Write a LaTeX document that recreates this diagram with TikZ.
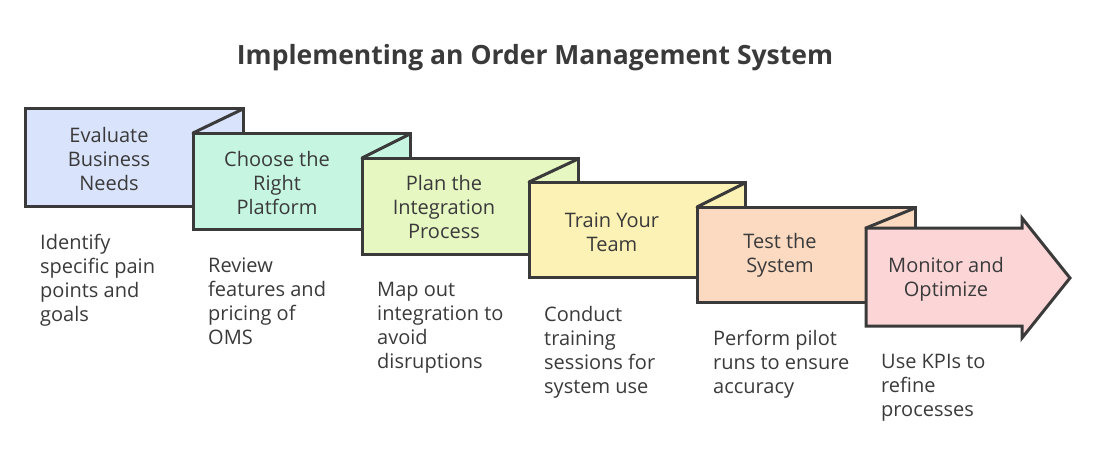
\documentclass[tikz,border=0pt]{standalone}
\usepackage{fontspec}
\setmainfont{Open Sans}
\definecolor{ink}{HTML}{3A3A3A}
\definecolor{cA}{HTML}{D9E3FB}
\definecolor{cB}{HTML}{C6F6E2}
\definecolor{cC}{HTML}{E6F7C2}
\definecolor{cD}{HTML}{FDF2B5}
\definecolor{cE}{HTML}{FCDAC2}
\definecolor{cF}{HTML}{FCD6D7}
\begin{document}
\begin{tikzpicture}[x=1pt,y=-1pt,
  stepbox/.style={draw=ink, line width=3pt, line join=miter},
  fold/.style={draw=ink, line width=3pt, line cap=round},
  lbl/.style={font=\fontsize{20}{24}\selectfont, text=ink, align=center, inner sep=0pt},
  desc/.style={font=\fontsize{20}{24}\selectfont, text=ink, align=left, anchor=north west, inner sep=0pt},
  ttl/.style={font=\bfseries\fontsize{26.5}{30}\selectfont, text=ink, inner sep=0pt}]
\useasboundingbox (0,0) rectangle (1096,472);
\node[ttl] (title) at (535,58) {Implementing an Order Management System};
% boxes
\filldraw[stepbox, fill=cA] (25,108) rectangle (243,206);
\filldraw[stepbox, fill=cB] (193,133) rectangle (410,229);
\draw[fold] (193,133) -- (243,109);
\filldraw[stepbox, fill=cC] (362,158) rectangle (578,254);
\draw[fold] (362,158) -- (410,134);
\filldraw[stepbox, fill=cD] (529,182) rectangle (745,277);
\draw[fold] (529,182) -- (578,159);
\filldraw[stepbox, fill=cE] (697,207) rectangle (915,302);
\draw[fold] (697,207) -- (745,183);
\filldraw[stepbox, fill=cF] (866,228) -- (1022,228) -- (1022,218) -- (1070,278) -- (1022,338) -- (1022,326) -- (866,326) -- cycle;
\draw[fold] (866,228) -- (915,208);
% labels
\node[lbl] (l1) at (109,159) {Evaluate\\Business\\Needs};
\node[lbl] (l2) at (277,183) {Choose the\\Right\\Platform};
\node[lbl] (l3) at (444,207) {Plan the\\Integration\\Process};
\node[lbl] (l4) at (612,232) {Train Your\\Team};
\node[lbl] (l5) at (780,255) {Test the\\System};
\node[lbl] (l6) at (946,279) {Monitor and\\Optimize};
% descriptions
\node[desc] (d1) at (40,234) {Identify\\specific pain\\points and\\goals};
\node[desc] (d2) at (208,258) {Review\\features and\\pricing of\\OMS};
\node[desc] (d3) at (377,282) {Map out\\integration to\\avoid\\disruptions};
\node[desc] (d4) at (544,306) {Conduct\\training\\sessions for\\system use};
\node[desc] (d5) at (713,330) {Perform pilot\\runs to ensure\\accuracy};
\node[desc] (d6) at (881,354) {Use KPIs to\\refine\\processes};
\end{tikzpicture}
\end{document}
